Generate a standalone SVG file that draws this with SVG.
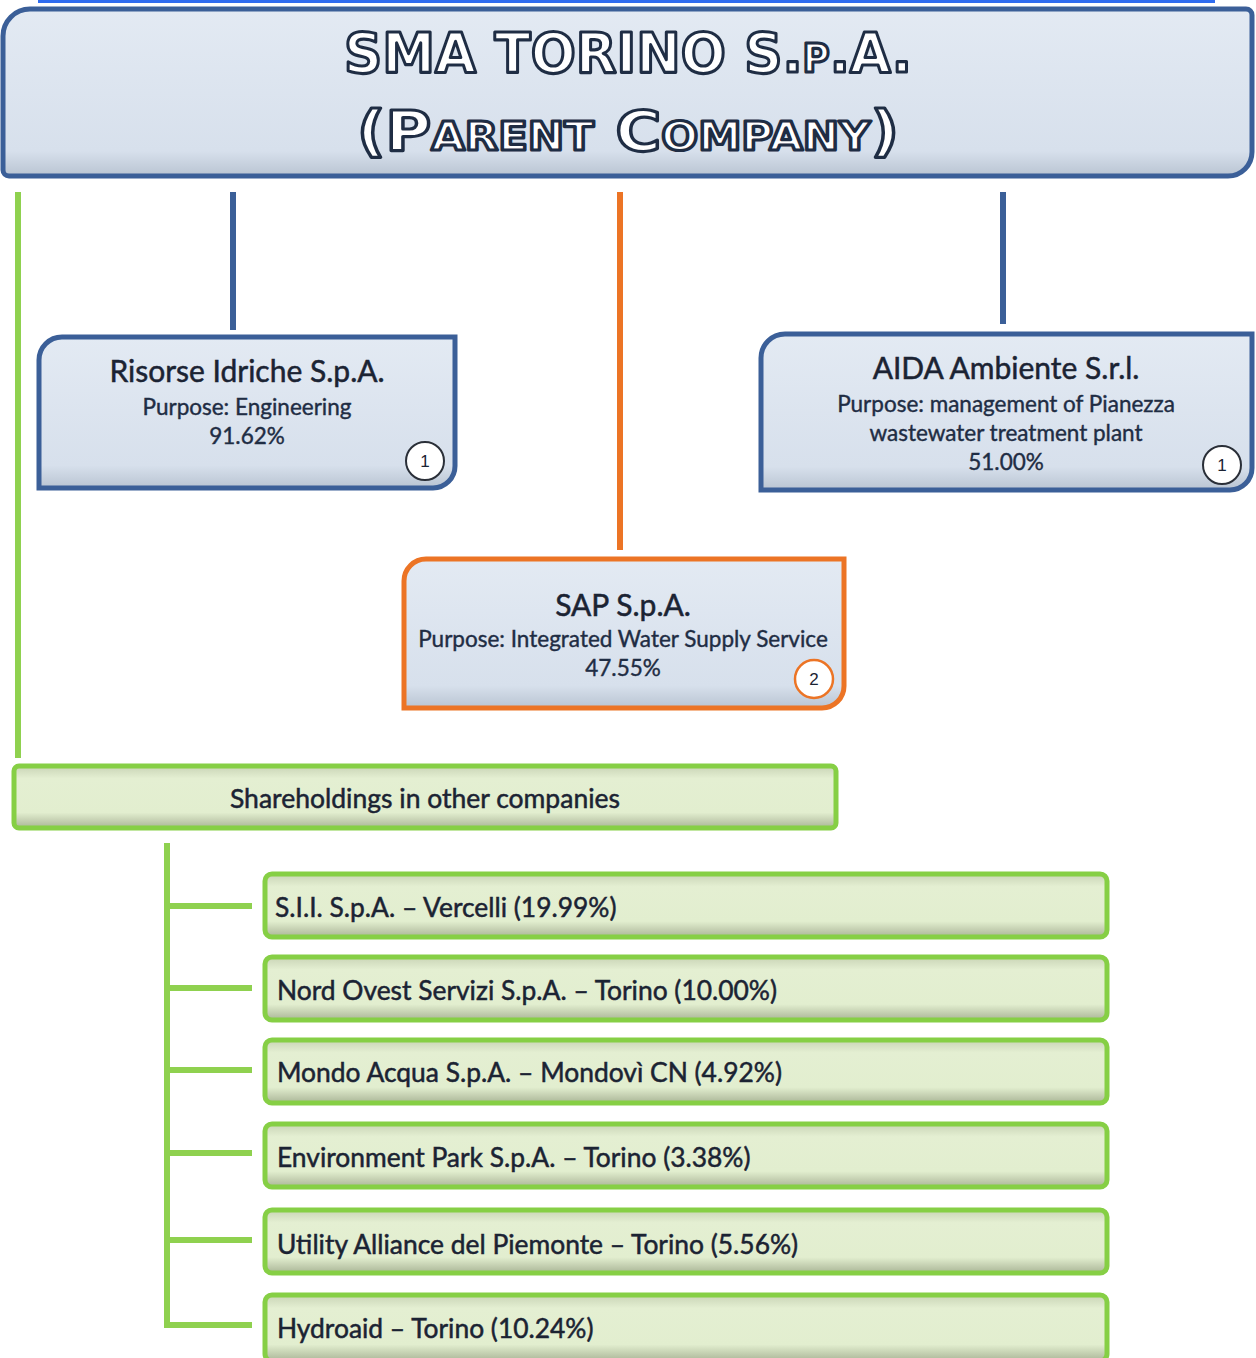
<svg xmlns="http://www.w3.org/2000/svg" width="1256" height="1358" viewBox="0 0 1256 1358">
<defs>
<linearGradient id="gBlue" x1="0" y1="0" x2="0" y2="1">
<stop offset="0" stop-color="#e3eaf3"/>
<stop offset="0.85" stop-color="#d7e0ec"/>
<stop offset="1" stop-color="#b9c4d2"/>
</linearGradient>
<linearGradient id="gGreen" x1="0" y1="0" x2="0" y2="1">
<stop offset="0" stop-color="#c9d4b6"/>
<stop offset="0.2" stop-color="#e4efd2"/>
<stop offset="0.75" stop-color="#e2eecf"/>
<stop offset="1" stop-color="#aab597"/>
</linearGradient>
<style>
.blueBox{fill:url(#gBlue);stroke:#3b5f98;stroke-width:5}
.orangeBox{fill:url(#gBlue);stroke:#ec7425;stroke-width:5}
.greenBox{fill:url(#gGreen);stroke:#86cf45;stroke-width:5}
.title{font-family:"DejaVu Sans",sans-serif;font-weight:bold;font-variant:small-caps;font-size:56px;fill:#ffffff;stroke:#1f2d44;stroke-width:3.2;stroke-linejoin:round;text-anchor:middle}
.name{font-family:Lato,"Open Sans",sans-serif;font-size:30px;fill:#1b2333;stroke:#1b2333;stroke-width:0.5;text-anchor:middle}
.sub{font-family:Lato,"Open Sans",sans-serif;font-size:22.5px;fill:#1f2d44;stroke:#1f2d44;stroke-width:0.4;text-anchor:middle}
.item{font-family:Lato,"Open Sans",sans-serif;font-size:26.4px;fill:#1b2333;stroke:#1b2333;stroke-width:0.5}
.badge{fill:#ffffff;stroke:#2a2f38;stroke-width:2}
.badgeO{fill:#ffffff;stroke:#ec7425;stroke-width:2.5}
.btxt{font-family:"Liberation Sans",sans-serif;font-size:17px;fill:#1b2333;text-anchor:middle}
.lnBlue{stroke:#3b5f98;stroke-width:6;fill:none}
.lnOrange{stroke:#ec7425;stroke-width:6;fill:none}
.lnGreen{stroke:#8fd14f;stroke-width:6;fill:none}
</style>
</defs>
<rect width="1256" height="1358" fill="#ffffff"/>
<line x1="38" y1="1.5" x2="1215" y2="1.5" stroke="#2f6cf0" stroke-width="3"/>

<g id="connectors">
<line class="lnGreen" x1="18" y1="192" x2="18" y2="758"/>
<line class="lnBlue" x1="233" y1="192" x2="233" y2="330"/>
<line class="lnOrange" x1="620" y1="192" x2="620" y2="550"/>
<line class="lnBlue" x1="1003" y1="192" x2="1003" y2="324"/>
<line class="lnGreen" x1="167" y1="843" x2="167" y2="1328"/>
<line class="lnGreen" x1="167" y1="906" x2="252" y2="906"/>
<line class="lnGreen" x1="167" y1="988" x2="252" y2="988"/>
<line class="lnGreen" x1="167" y1="1070" x2="252" y2="1070"/>
<line class="lnGreen" x1="167" y1="1153" x2="252" y2="1153"/>
<line class="lnGreen" x1="167" y1="1240" x2="252" y2="1240"/>
<line class="lnGreen" x1="167" y1="1325" x2="252" y2="1325"/>
</g>

<g id="parent">
<path class="blueBox" d="M30,9 H1246 A6,6 0 0 1 1252,15 V152 A24,24 0 0 1 1228,176 H9 A6,6 0 0 1 3,170 V36 A27,27 0 0 1 30,9 Z"/>
<text class="title" x="628" y="72" textLength="568" lengthAdjust="spacingAndGlyphs">SMA TORINO S.p.A.</text>
<text class="title" x="628" y="150" textLength="542" lengthAdjust="spacingAndGlyphs">(Parent Company)</text>
</g>

<g id="risorse">
<path class="blueBox" d="M62,337 H455 V466 A22,22 0 0 1 433,488 H39 V360 A23,23 0 0 1 62,337 Z"/>
<text class="name" x="247" y="382">Risorse Idriche S.p.A.</text>
<text class="sub" x="247" y="415">Purpose: Engineering</text>
<text class="sub" x="247" y="444">91.62%</text>
<circle class="badge" cx="425" cy="461" r="19"/>
<text class="btxt" x="425" y="467">1</text>
</g>

<g id="aida">
<path class="blueBox" d="M785,334 H1252 V468 A22,22 0 0 1 1230,490 H761 V358 A24,24 0 0 1 785,334 Z"/>
<text class="name" x="1006" y="379">AIDA Ambiente S.r.l.</text>
<text class="sub" x="1006" y="412">Purpose: management of Pianezza</text>
<text class="sub" x="1006" y="441">wastewater treatment plant</text>
<text class="sub" x="1006" y="470">51.00%</text>
<circle class="badge" cx="1222" cy="465" r="19"/>
<text class="btxt" x="1222" y="471">1</text>
</g>

<g id="sap">
<path class="orangeBox" d="M426,559 H844 V686 A22,22 0 0 1 822,708 H404 V581 A22,22 0 0 1 426,559 Z"/>
<text class="name" x="623" y="616">SAP S.p.A.</text>
<text class="sub" x="623" y="647">Purpose: Integrated Water Supply Service</text>
<text class="sub" x="623" y="676">47.55%</text>
<circle class="badgeO" cx="814" cy="679" r="19"/>
<text class="btxt" x="814" y="685">2</text>
</g>

<g id="shareholdings">
<rect class="greenBox" x="14" y="766" width="822" height="62" rx="5"/>
<text class="name" x="425" y="808" style="font-size:26.5px">Shareholdings in other companies</text>
</g>

<g id="sii">
<rect class="greenBox" x="265" y="874" width="842" height="63" rx="7"/>
<text class="item" x="275" y="917">S.I.I. S.p.A. – Vercelli (19.99%)</text>
</g>
<g id="nordovest">
<rect class="greenBox" x="265" y="957" width="842" height="63" rx="7"/>
<text class="item" x="277" y="1000">Nord Ovest Servizi S.p.A. – Torino (10.00%)</text>
</g>
<g id="mondoacqua">
<rect class="greenBox" x="265" y="1040" width="842" height="63" rx="7"/>
<text class="item" x="277" y="1082">Mondo Acqua S.p.A. – Mondovì CN (4.92%)</text>
</g>
<g id="envpark">
<rect class="greenBox" x="265" y="1124" width="842" height="63" rx="7"/>
<text class="item" x="277" y="1167">Environment Park S.p.A. – Torino (3.38%)</text>
</g>
<g id="utility">
<rect class="greenBox" x="265" y="1210" width="842" height="63" rx="7"/>
<text class="item" x="277" y="1254">Utility Alliance del Piemonte – Torino (5.56%)</text>
</g>
<g id="hydroaid">
<rect class="greenBox" x="265" y="1295" width="842" height="66" rx="7"/>
<text class="item" x="277" y="1338">Hydroaid – Torino (10.24%)</text>
</g>
</svg>
